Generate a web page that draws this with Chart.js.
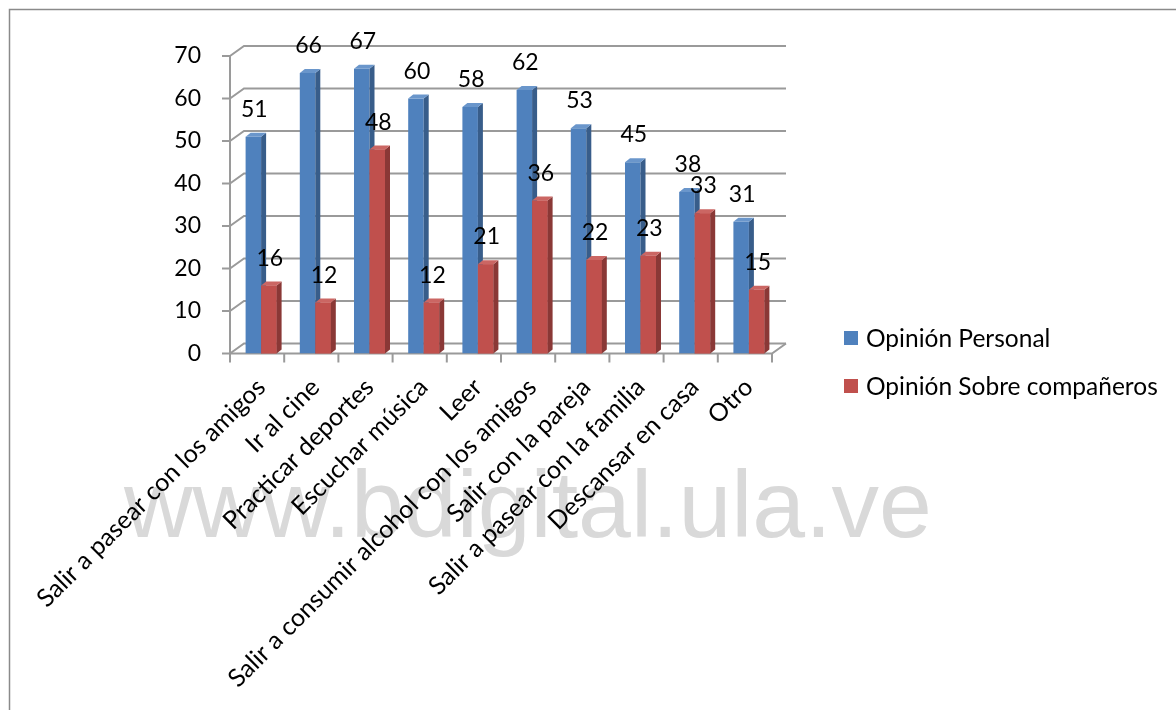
<!DOCTYPE html>
<html>
<head>
<meta charset="utf-8">
<script src="https://cdn.jsdelivr.net/npm/chart.js@4.4.1/dist/chart.umd.min.js"></script>
<style>
  html, body { margin: 0; padding: 0; background: #ffffff; }
  canvas { display: block; }
</style>
</head>
<body>
<canvas id="chart" width="1176" height="710"></canvas>
<script>
// Actividades de tiempo libre
const categories = [
  'Salir a pasear con los amigos',
  'Ir al cine',
  'Practicar deportes',
  'Escuchar música',
  'Leer',
  'Salir a consumir alcohol con los amigos',
  'Salir con la pareja',
  'Salir a pasear con la familia',
  'Descansar en casa',
  'Otro'
];
const opinionPersonal   = [51, 66, 67, 60, 58, 62, 53, 45, 38, 31];
const opinionCompaneros = [16, 12, 48, 12, 21, 36, 22, 23, 33, 15];
const seriesNames = ['Opinión Personal', 'Opinión Sobre compañeros'];
const yTickValues = [0, 10, 20, 30, 40, 50, 60, 70];
const watermarkText = 'www.bdigital.ula.ve';

const FONT = 'Lato, "Open Sans", sans-serif';
const COLORS = {
  blue:  { front: '#4F81BD', side: '#385D8A', top: '#6A96CB' },
  red:   { front: '#C0504D', side: '#8A3836', top: '#CB6663' },
  grid: '#9a9a9a'
};

// geometry of the pseudo-3D frame
const WALL_DX = 14, WALL_DY = -10;   // back wall offset
const BAR_DX = 5, BAR_DY = -4;       // bar depth
const FRAME_SHIFT = 4;               // frame sits slightly left of the bar slots

function drawBarDepth(ctx, el, pal) {
  const p = el.getProps(['x', 'y', 'base', 'width'], true);
  const x0 = p.x - p.width / 2, x1 = p.x + p.width / 2;
  const top = p.y, bottom = p.base;
  ctx.fillStyle = pal.side;
  ctx.beginPath();
  ctx.moveTo(x1, bottom);
  ctx.lineTo(x1, top);
  ctx.lineTo(x1 + BAR_DX, top + BAR_DY);
  ctx.lineTo(x1 + BAR_DX, bottom + BAR_DY);
  ctx.closePath();
  ctx.fill();
  ctx.fillStyle = pal.top;
  ctx.beginPath();
  ctx.moveTo(x0, top);
  ctx.lineTo(x1, top);
  ctx.lineTo(x1 + BAR_DX, top + BAR_DY);
  ctx.lineTo(x0 + BAR_DX, top + BAR_DY);
  ctx.closePath();
  ctx.fill();
}

const frame3d = {
  id: 'frame3d',
  beforeDraw(chart) {
    const ctx = chart.ctx;
    ctx.save();
    ctx.fillStyle = '#ffffff';
    ctx.fillRect(0, 0, chart.width, chart.height);
    // page border (left and top)
    ctx.strokeStyle = '#8a8a8a';
    ctx.lineWidth = 1.5;
    ctx.beginPath();
    ctx.moveTo(9.5, chart.height);
    ctx.lineTo(9.5, 9.5);
    ctx.lineTo(chart.width, 9.5);
    ctx.stroke();
    // watermark
    ctx.fillStyle = '#d9d9d9';
    ctx.font = '95px "Liberation Sans", Arial, sans-serif';
    ctx.textAlign = 'left';
    ctx.textBaseline = 'alphabetic';
    ctx.fillText(watermarkText, 124, 537);
    ctx.restore();
  },
  beforeDatasetsDraw(chart) {
    const ctx = chart.ctx;
    const xs = chart.scales.x, ys = chart.scales.y;
    const left = xs.left - FRAME_SHIFT, right = xs.right - FRAME_SHIFT;
    const y0 = ys.getPixelForValue(0);
    ctx.save();
    ctx.strokeStyle = COLORS.grid;
    ctx.lineWidth = 2;
    ctx.lineCap = 'butt';
    // back wall gridlines with the side-wall diagonal
    yTickValues.forEach(v => {
      const y = ys.getPixelForValue(v);
      ctx.beginPath();
      ctx.moveTo(left, y);
      ctx.lineTo(left + WALL_DX, y + WALL_DY);
      ctx.lineTo(right + WALL_DX, y + WALL_DY);
      ctx.stroke();
      // tick marks on the value axis
      ctx.beginPath();
      ctx.moveTo(left - 8, y);
      ctx.lineTo(left, y);
      ctx.stroke();
    });
    // value axis
    ctx.beginPath();
    ctx.moveTo(left, ys.getPixelForValue(70));
    ctx.lineTo(left, y0);
    ctx.stroke();
    // floor front edge and right edge
    ctx.beginPath();
    ctx.moveTo(left, y0);
    ctx.lineTo(right, y0);
    ctx.lineTo(right + WALL_DX, y0 + WALL_DY);
    ctx.stroke();
    // category tick marks
    const step = (right - left) / categories.length;
    for (let i = 0; i <= categories.length; i++) {
      const x = left + i * step;
      ctx.beginPath();
      ctx.moveTo(x, y0);
      ctx.lineTo(x, y0 + 9);
      ctx.stroke();
    }
    ctx.restore();
  },
  afterDatasetsDraw(chart) {
    const ctx = chart.ctx;
    const metaP = chart.getDatasetMeta(0);
    const metaC = chart.getDatasetMeta(1);
    ctx.save();
    // depth faces of the first series, then the second series is laid over them
    metaP.data.forEach(el => drawBarDepth(ctx, el, COLORS.blue));
    metaC.data.forEach(el => { el.draw(ctx); drawBarDepth(ctx, el, COLORS.red); });

    // value labels
    ctx.fillStyle = '#000000';
    ctx.font = '23px ' + FONT;
    ctx.textAlign = 'center';
    ctx.textBaseline = 'alphabetic';
    chart.data.datasets.forEach((ds, di) => {
      chart.getDatasetMeta(di).data.forEach((el, i) => {
        const p = el.getProps(['x', 'y'], true);
        ctx.fillText(String(ds.data[i]), p.x + 1, p.y - 20);
      });
    });
    // legend
    ctx.font = '24.5px ' + FONT;
    ctx.textAlign = 'left';
    ctx.textBaseline = 'middle';
    const legendY = [338, 386];
    chart.data.datasets.forEach((ds, di) => {
      ctx.fillStyle = ds.backgroundColor;
      ctx.fillRect(844, legendY[di] - 7, 14, 14);
      ctx.fillStyle = '#000000';
      ctx.fillText(ds.label, 866, legendY[di] + 1);
    });
    ctx.restore();
  }
};

new Chart(document.getElementById('chart'), {
  type: 'bar',
  data: {
    labels: categories,
    datasets: [
      { label: seriesNames[0], data: opinionPersonal, backgroundColor: COLORS.blue.front,
        categoryPercentage: 0.572, barPercentage: 1.0 },
      { label: seriesNames[1], data: opinionCompaneros, backgroundColor: COLORS.red.front,
        categoryPercentage: 0.572, barPercentage: 1.0 }
    ]
  },
  options: {
    responsive: false,
    animation: false,
    devicePixelRatio: 1,
    layout: { padding: { left: 0, top: 56, right: 400, bottom: 0 } },
    plugins: { legend: { display: false }, tooltip: { enabled: false } },
    scales: {
      x: {
        grid: { display: false, drawTicks: false },
        border: { display: false },
        ticks: { autoSkip: false, minRotation: 45, maxRotation: 45, padding: 19,
                 color: '#000000', font: { family: FONT, size: 25 } },
        afterFit(scale) { scale.height = 356.5; }
      },
      y: {
        min: 0, max: 70,
        grid: { display: false, drawTicks: false },
        border: { display: false },
        ticks: { padding: 33, color: '#000000', font: { family: FONT, size: 23 } },
        afterBuildTicks(scale) { scale.ticks = yTickValues.map(v => ({ value: v })); },
        afterFit(scale) { scale.width = 234; }
      }
    }
  },
  plugins: [frame3d]
});
</script>
</body>
</html>
